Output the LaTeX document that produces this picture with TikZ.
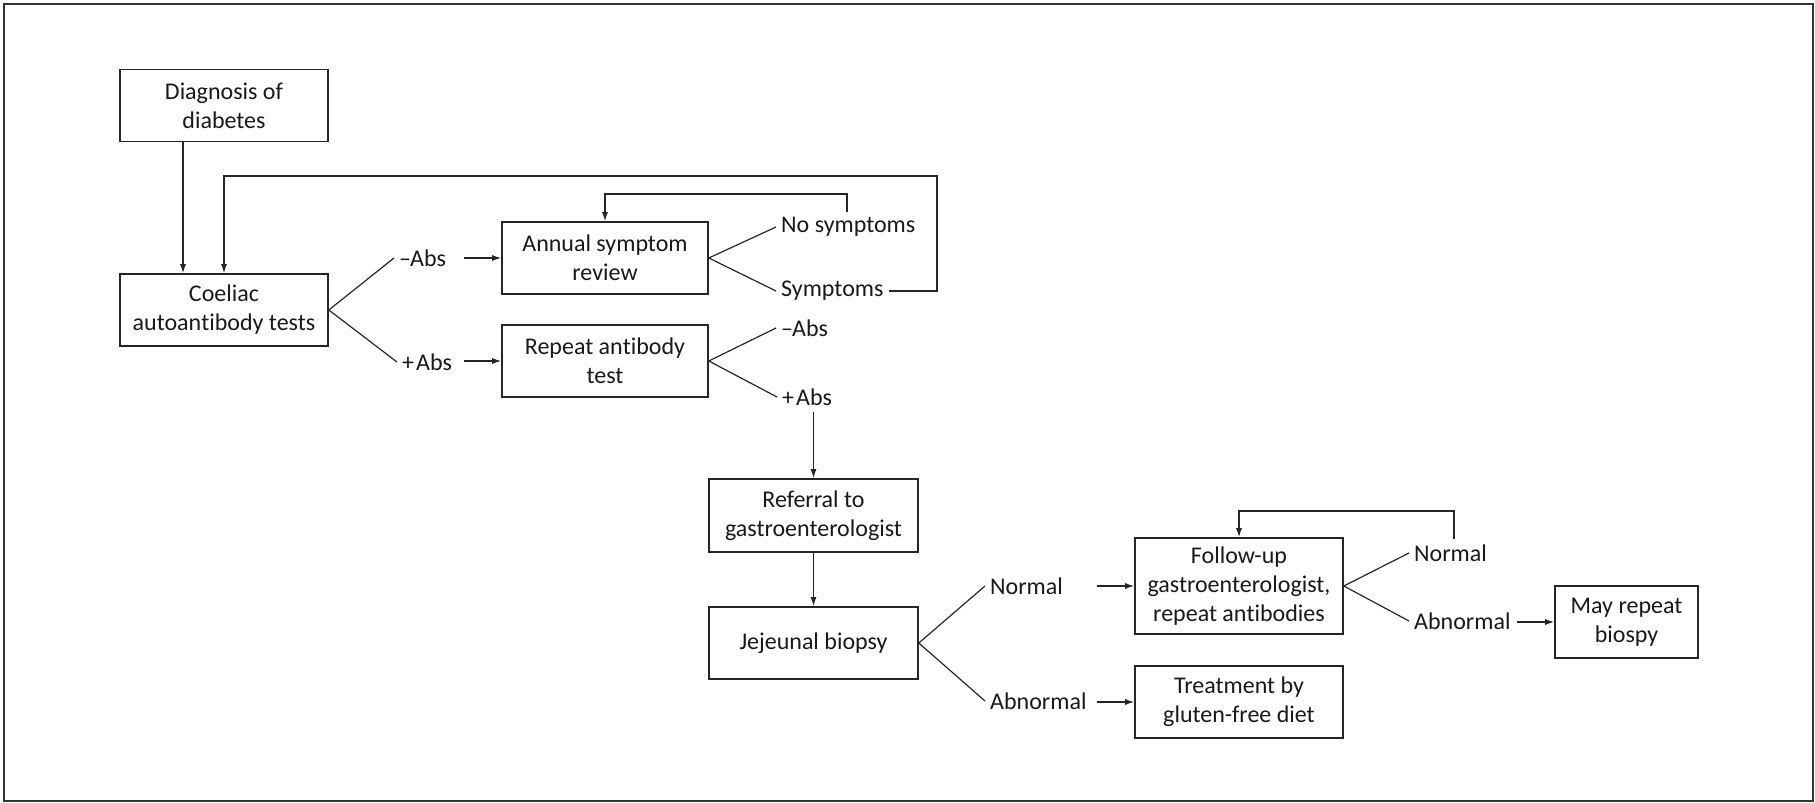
\documentclass[tikz,border=0pt]{standalone}
\usepackage{fontspec}
\setmainfont{Carlito}[RawFeature={-liga;-clig;-calt;-dlig}]
\usetikzlibrary{arrows.meta,calc}
\begin{document}
\begin{tikzpicture}[x=1pt,y=-1pt,
  every node/.style={font=\fontsize{24}{29}\selectfont, text=black!90},
  box/.style={draw=black!85, line width=1.6pt, align=center, inner sep=2pt},
  lbl/.style={inner sep=5pt},
  ln/.style={draw=black!85, line width=1.2pt},
  arr/.style={ln, -{Latex[length=9pt,width=6pt]}}]
\useasboundingbox (0,0) rectangle (1815,803);
\draw[line width=2pt, draw=black!80] (4,4) rectangle (1813,801);

% boxes
\node[box, minimum width=208pt, minimum height=72pt] (diag) at (224,105.5) {Diagnosis of\\diabetes};
\node[box, minimum width=208pt, minimum height=72pt] (coeliac) at (224,310) {Coeliac\\autoan\kern0pt tibody tests};
\node[box, minimum width=206pt, minimum height=72pt] (annual) at (605,258) {Annual symptom\\review};
\node[box, minimum width=206pt, minimum height=72pt] (repeat) at (605,361) {Repeat an\kern0pt tibody\\test};
\node[box, minimum width=209pt, minimum height=73pt] (referral) at (813.5,515.5) {Referral to\\gastroenterologist};
\node[box, minimum width=209pt, minimum height=72pt] (jejunal) at (813.5,643) {Jejeunal biopsy};
\node[box, minimum width=208pt, minimum height=96pt] (follow) at (1239,586) {Follow-up\\gastroenterologist,\\repeat an\kern0pt tibodies};
\node[box, minimum width=208pt, minimum height=72pt] (treat) at (1239,702) {Treatment by\\gluten-free diet};
\node[box, minimum width=143pt, minimum height=72pt] (mayrep) at (1626.5,622) {May repeat\\biospy};

% labels
\node[lbl, anchor=west] (negA) at (394,258) {–\kern-1ptAbs};
\node[lbl, anchor=west] (posA) at (397,362) {+\kern2ptAbs};
\node[lbl, anchor=west] (nosym) at (776,227) {No symptoms};
\node[lbl, anchor=west] (sym) at (776,291) {Symptoms};
\node[lbl, anchor=west] (negB) at (776,328) {–\kern-1ptAbs};
\node[lbl, anchor=west] (posB) at (777,397) {+\kern2ptAbs};
\node[lbl, anchor=west] (norm1) at (985,586) {Normal};
\node[lbl, anchor=west] (abn1) at (985,701) {Abnormal};
\node[lbl, anchor=west] (norm2) at (1409,553) {Normal};
\node[lbl, anchor=west] (abn2) at (1409,621) {Abnormal};

% loop corners
\coordinate (bigR) at (937,176);
\coordinate (smallT) at (847,194);
\coordinate (folT) at (1454,511);

% connectors
\draw[arr] ([xshift=-41pt]diag.south) -- ([xshift=-41pt]coeliac.north);
\draw[ln] (coeliac.east) -- (negA.west);
\draw[ln] (coeliac.east) -- (posA.west);
\draw[arr] ($(annual.west)+(-37,0)$) -- (annual.west);
\draw[arr] ($(repeat.west)+(-37,0)$) -- (repeat.west);
\draw[ln] (annual.east) -- (nosym.west);
\draw[ln] (annual.east) -- (sym.west);
\draw[ln] (repeat.east) -- (negB.west);
\draw[ln] (repeat.east) -- (posB.west);
\draw[arr] (sym.east) -| (bigR) -| (coeliac.north);
\draw[arr] (smallT |- nosym.north) -- (smallT) -| (annual.north);
\draw[arr] (referral.north |- 0,412) -- (referral.north);
\draw[arr] (referral.south) -- (jejunal.north);
\draw[ln] (jejunal.east) -- (norm1.west);
\draw[ln] (jejunal.east) -- (abn1.west);
\draw[arr] ($(follow.west)+(-37,0)$) -- (follow.west);
\draw[arr] ($(treat.west)+(-37,0)$) -- (treat.west);
\draw[ln] (follow.east) -- (norm2.west);
\draw[ln] (follow.east) -- (abn2.west);
\draw[arr] (folT |- norm2.north) -- (folT) -| (follow.north);
\draw[arr] ($(mayrep.west)+(-37,0)$) -- (mayrep.west);
\end{tikzpicture}
\end{document}
